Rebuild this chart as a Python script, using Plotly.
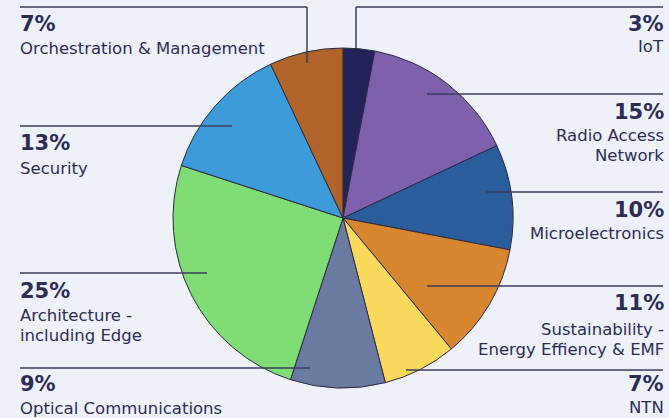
import plotly.graph_objects as go

categories = ["IoT", "Radio Access Network", "Microelectronics",
              "Sustainability - Energy Effiency & EMF", "NTN",
              "Optical Communications", "Architecture - including Edge",
              "Security", "Orchestration & Management"]
values = [3, 15, 10, 11, 7, 9, 25, 13, 7]
colors = ["#23235a", "#7e60ad", "#2b5c9c", "#d8862f", "#f9d95c",
          "#6b7aa1", "#80dc74", "#3c9bd8", "#b0642a"]

W, H = 669, 418
CX, CY, R = 343, 218, 170

fig = go.Figure(go.Pie(
    labels=categories, values=values, sort=False, direction="clockwise",
    rotation=0, textinfo="none", hoverinfo="label+percent",
    marker=dict(colors=colors, line=dict(color="#2a2a40", width=1)),
    domain=dict(x=[(CX - R) / W, (CX + R) / W], y=[(H - CY - R) / H, (H - CY + R) / H]),
    showlegend=False,
))

def px(x):
    return x / W

def py(y):
    return 1 - y / H

TXT = "#2c2c54"
LINE = "#3a3b5c"
FONT = "DejaVu Sans"
shapes = []
annots = []

def line(x0, y0, x1, y1):
    shapes.append(dict(type="line", xref="paper", yref="paper",
                       x0=px(x0), y0=py(y0), x1=px(x1), y1=py(y1),
                       line=dict(color=LINE, width=1.5)))

def label(x, y_pct, lines_y, pct, text_lines, side):
    xa = "left" if side == "left" else "right"
    annots.append(dict(x=px(x), y=py(y_pct), xref="paper", yref="paper",
                       text="<b>%s</b>" % pct, showarrow=False, xanchor=xa,
                       yanchor="middle", font=dict(size=21, color=TXT, family=FONT)))
    for t, yy in zip(text_lines, lines_y):
        annots.append(dict(x=px(x), y=py(yy), xref="paper", yref="paper",
                           text=t, showarrow=False, xanchor=xa, yanchor="middle",
                           font=dict(size=16.5, color=TXT, family=FONT)))

pct = ["%d%%" % v for v in values]

# leader lines
line(20, 7, 307, 7); line(307, 7, 307, 63)          # Orchestration
line(356, 48, 356, 7); line(356, 7, 663, 7)         # IoT
line(427, 94, 663, 94)                               # RAN
line(20, 126, 232, 126)                              # Security
line(486, 192, 663, 192)                             # Microelectronics
line(20, 273, 207, 273)                              # Architecture
line(427, 286, 663, 286)                             # Sustainability
line(20, 368, 310, 368)                              # Optical
line(406, 370, 663, 370)                             # NTN

L, Rx = 18, 666
label(L, 24, [48], pct[8], ["Orchestration & Management"], "left")
label(Rx, 24, [47], pct[0], ["IoT"], "right")
label(Rx, 112, [135, 156], pct[1], ["Radio Access", "Network"], "right")
label(L, 143, [168], pct[7], ["Security"], "left")
label(Rx, 210, [233], pct[2], ["Microelectronics"], "right")
label(L, 291, [315, 335], pct[6], ["Architecture -", "including Edge"], "left")
label(Rx, 303, [329, 349], pct[3], ["Sustainability -", "Energy Effiency & EMF"], "right")
label(L, 384, [408], pct[5], ["Optical Communications"], "left")
label(Rx, 384, [407], pct[4], ["NTN"], "right")

fig.update_layout(width=W, height=H, margin=dict(l=0, r=0, t=0, b=0),
                  paper_bgcolor="#eef1f7", plot_bgcolor="#eef1f7",
                  shapes=shapes, annotations=annots)

fig.write_html("out.html", config={"displayModeBar": False},
               post_script="document.body.style.margin='0';document.body.style.background='#eef1f7';")
